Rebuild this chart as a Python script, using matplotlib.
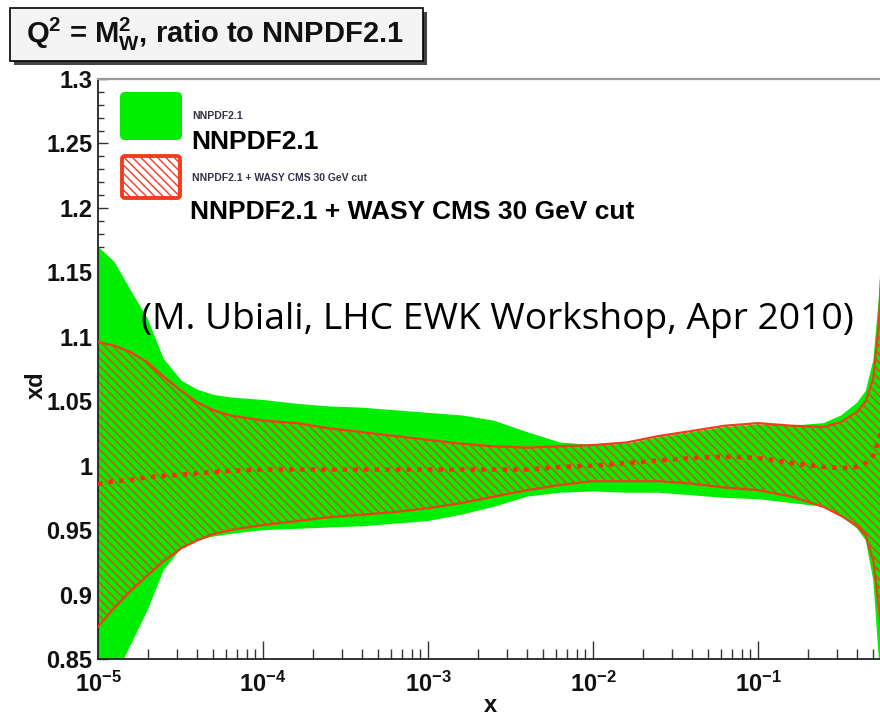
import numpy as np
import matplotlib
matplotlib.use("Agg")
import matplotlib.pyplot as plt
from matplotlib.patches import Rectangle, FancyBboxPatch
from matplotlib.ticker import MultipleLocator, LogLocator, FuncFormatter, NullFormatter

plt.rcParams['font.family'] = ['Liberation Sans', 'DejaVu Sans']
plt.rcParams['font.weight'] = 'bold'
plt.rcParams['mathtext.fontset'] = 'custom'
plt.rcParams['mathtext.rm'] = 'Liberation Sans'
plt.rcParams['mathtext.bf'] = 'Liberation Sans:bold'
plt.rcParams['mathtext.it'] = 'Liberation Sans:italic'
plt.rcParams['hatch.linewidth'] = 1.0

GREEN = '#00ee00'
RED = '#f23c1c'

# ---- data: xd ratio to NNPDF2.1 at Q^2 = M_W^2 ----
x = [1.0e-5, 1.26e-5, 1.58e-5, 2.0e-5, 2.5e-5, 3.2e-5, 4.0e-5, 5.0e-5, 6.3e-5,
     1.0e-4, 1.6e-4, 2.5e-4, 4.0e-4, 6.3e-4, 1.0e-3, 1.6e-3, 2.5e-3, 4.0e-3,
     6.3e-3, 1.0e-2, 1.6e-2, 2.5e-2, 4.0e-2, 6.3e-2, 0.1, 0.16, 0.25, 0.32,
     0.40, 0.45, 0.50, 0.54, 0.57, 0.63, 1.0]

# NNPDF2.1 band
nn_hi = [1.170, 1.158, 1.136, 1.114, 1.083, 1.066, 1.059, 1.055, 1.053,
         1.051, 1.048, 1.046, 1.045, 1.043, 1.041, 1.039, 1.035, 1.026,
         1.018, 1.016, 1.017, 1.022, 1.026, 1.030, 1.032, 1.031, 1.033, 1.039,
         1.049, 1.058, 1.082, 1.130, 1.190, 1.300, 1.600]
nn_lo = [0.800, 0.835, 0.861, 0.888, 0.919, 0.936, 0.942, 0.945, 0.947,
         0.950, 0.951, 0.952, 0.953, 0.955, 0.957, 0.962, 0.968, 0.976,
         0.979, 0.980, 0.979, 0.979, 0.977, 0.975, 0.974, 0.971, 0.968, 0.961,
         0.951, 0.942, 0.911, 0.850, 0.790, 0.700, 0.500]

# NNPDF2.1 + WASY CMS 30 GeV cut
w_hi = [1.096, 1.093, 1.088, 1.080, 1.069, 1.058, 1.049, 1.043, 1.039,
        1.035, 1.033, 1.029, 1.026, 1.023, 1.020, 1.017, 1.015, 1.014,
        1.015, 1.016, 1.018, 1.023, 1.027, 1.031, 1.033, 1.031, 1.030, 1.034,
        1.042, 1.050, 1.068, 1.110, 1.170, 1.280, 1.550]
w_mid = [0.986, 0.988, 0.989, 0.991, 0.992, 0.993, 0.994, 0.995, 0.996,
         0.997, 0.997, 0.997, 0.997, 0.997, 0.997, 0.997, 0.997, 0.997,
         0.999, 1.000, 1.002, 1.004, 1.006, 1.007, 1.006, 1.002, 0.999, 0.998,
         0.999, 1.002, 1.008, 1.020, 1.030, 1.050, 1.100]
w_lo = [0.875, 0.890, 0.903, 0.915, 0.926, 0.936, 0.942, 0.947, 0.950,
        0.954, 0.957, 0.960, 0.962, 0.964, 0.967, 0.971, 0.976, 0.981,
        0.985, 0.988, 0.988, 0.988, 0.986, 0.983, 0.981, 0.976, 0.968, 0.961,
        0.953, 0.946, 0.926, 0.890, 0.860, 0.800, 0.600]

fig = plt.figure(figsize=(8.8, 7.14), dpi=100)
W, H = 880, 714

# frame runs past the right edge of the canvas (x up to 1)
ax = fig.add_axes([98 / W, 55 / H, 825 / W, 580 / H])
ax.set_xscale('log')
ax.set_xlim(1e-5, 1)
ax.set_ylim(0.85, 1.3)
ax.set_axisbelow(True)

ax.fill_between(x, nn_lo, nn_hi, facecolor=GREEN, linewidth=0, zorder=1)
ax.fill_between(x, w_lo, w_hi, facecolor='none', edgecolor=RED,
                hatch='\\\\\\\\', linewidth=0, zorder=2)
ax.plot(x, w_hi, color=RED, lw=1.6, zorder=3)
ax.plot(x, w_lo, color=RED, lw=1.6, zorder=3)
ax.plot(x, w_mid, color='#ff2a10', lw=3.2, linestyle=(0, (1.0, 1.4)), zorder=3)


def xlabel_fmt(v, _):
    if v > 0.5:
        return ''
    return r'$\mathbf{10^{%d}}$' % round(np.log10(v))


ax.xaxis.set_major_locator(LogLocator(base=10, numticks=10))
ax.xaxis.set_minor_locator(LogLocator(base=10, subs=np.arange(2, 10), numticks=20))
ax.xaxis.set_major_formatter(FuncFormatter(xlabel_fmt))
ax.xaxis.set_minor_formatter(NullFormatter())
ax.yaxis.set_major_locator(MultipleLocator(0.05))
ax.yaxis.set_minor_locator(MultipleLocator(0.01))
ax.yaxis.set_major_formatter(FuncFormatter(lambda v, _: '%g' % round(v, 2)))

ax.tick_params(axis='both', which='both', direction='in', color='#333333',
               labelcolor='#111111', top=False, right=False)
ax.tick_params(axis='x', which='major', length=13, width=1.0, pad=9, labelsize=17)
ax.tick_params(axis='x', which='minor', length=7, width=1.0)
ax.tick_params(axis='y', which='major', length=7, width=1.0, pad=4, labelsize=17)
ax.tick_params(axis='y', which='minor', length=4.5, width=1.0)

ax.spines['top'].set_color('#9a9a9a')
ax.spines['top'].set_linewidth(1.6)
for s in ('left', 'bottom'):
    ax.spines[s].set_color('#222222')
    ax.spines[s].set_linewidth(1.3)

fig.text(36 / W, 1 - 385 / H, 'xd', rotation=90, ha='center', va='center',
         fontsize=17, color='#111111')
fig.text(490 / W, 1 - 706 / H, 'x', ha='center', va='center',
         fontsize=17, color='#111111')

# overlay in pixel coordinates for title box and legend
ov = fig.add_axes([0, 0, 1, 1])
ov.set_xlim(0, W)
ov.set_ylim(H, 0)
ov.axis('off')

ov.add_patch(Rectangle((14, 12), 413, 53, facecolor='#444444', edgecolor='none'))
ov.add_patch(Rectangle((10, 8), 413, 53, facecolor='#f4f4f4', edgecolor='black', lw=1.2))
ov.text(215, 43, r'$\mathbf{Q^{2}}$ = $\mathbf{M_{W}^{2}}$, ratio to NNPDF2.1',
        ha='center', va='baseline', fontsize=21, color='#111111')

ov.add_patch(FancyBboxPatch((120, 92), 62, 48, boxstyle='round,pad=0,rounding_size=5',
                            facecolor=GREEN, edgecolor='none'))
ov.add_patch(FancyBboxPatch((122, 156), 58, 42, boxstyle='round,pad=0,rounding_size=3',
                            facecolor='white', edgecolor=RED, lw=2.8, hatch='\\\\\\\\'))

ov.text(192, 119, 'NNPDF2.1', fontsize=7.5, va='baseline', color='#333344')
ov.text(191, 149, 'NNPDF2.1', fontsize=19, va='baseline', color='black')
ov.text(192, 181, 'NNPDF2.1 + WASY CMS 30 GeV cut', fontsize=7.5, va='baseline', color='#333344')
ov.text(190, 219, 'NNPDF2.1 + WASY CMS 30 GeV cut', fontsize=19, va='baseline', color='black')

ov.text(497, 320, '(M. Ubiali, LHC EWK Workshop, Apr 2010)', ha='center', va='center',
        fontsize=26.8, fontweight='normal', family=['Open Sans', 'DejaVu Sans'], color='black')

fig.savefig('out.png', dpi=100)
